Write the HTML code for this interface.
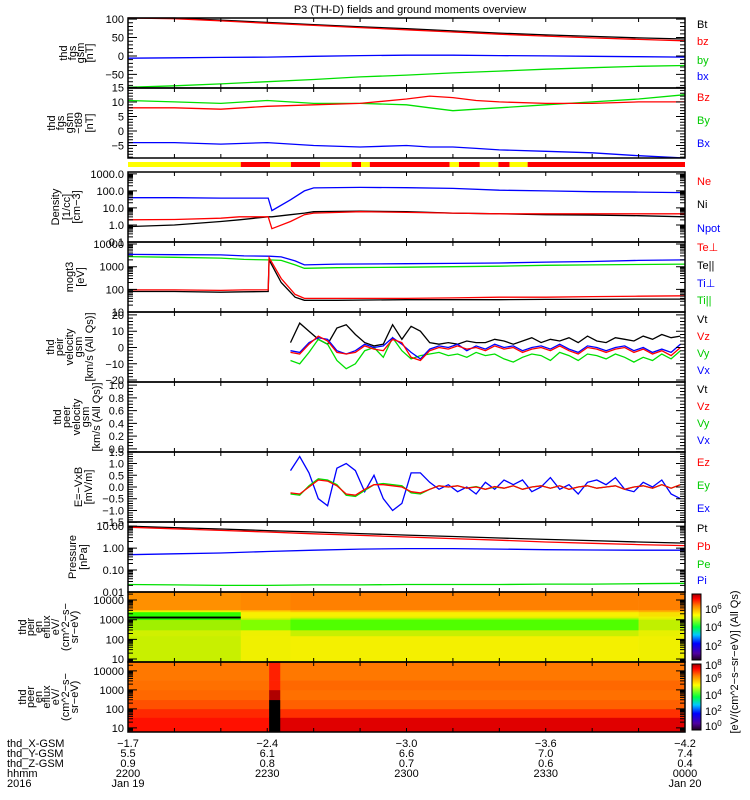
<!DOCTYPE html>
<html><head><meta charset="utf-8"><style>
body{margin:0;background:#fff;}
svg{display:block;font-family:"Liberation Sans",sans-serif;}
text{font-size:11px;}
</style></head><body>
<svg id="chart" width="750" height="800" viewBox="0 0 750 800" xmlns="http://www.w3.org/2000/svg">
<defs>
<linearGradient id="cbar" x1="0" y1="1" x2="0" y2="0">
<stop offset="0" stop-color="#200020"/><stop offset="0.1" stop-color="#5000a0"/><stop offset="0.25" stop-color="#0000ff"/><stop offset="0.38" stop-color="#00c8ff"/><stop offset="0.5" stop-color="#00ff40"/><stop offset="0.68" stop-color="#ffff00"/><stop offset="0.82" stop-color="#ff8000"/><stop offset="0.93" stop-color="#ff0000"/><stop offset="1" stop-color="#a00000"/>
</linearGradient>
</defs>
<text x="410" y="13" text-anchor="middle" font-size="12">P3 (TH-D) fields and ground moments overview</text>
<g id="spec"></g><g id="lines"></g><g id="axes"></g><g id="labels"></g>
</svg>
<script>
const NS="http://www.w3.org/2000/svg";
const X0=128,X1=685,TSPAN=120;
function xs(t){return X0+t*(X1-X0)/TSPAN;}
// ---- data ----
const fgsT=[0,10,20,30,40,50,60,70,80,90,100,110,120];
const btV=[108,103,97,91,85,79,74,68,62,57,53,49,46];
const bzV=[106,101,95,89,83,77,71,65,59,54,49,45,41];
const byV=[-85,-81,-76,-70,-64,-57,-52,-46,-41,-36,-32,-28,-26];
const bxV=[-6,-5,-4,-3,-1,1,2,2,1,0,-1,-2,-3];
const t89T=[0,10,20,30,40,50,60,65,70,75,80,90,100,110,120];
const dBzV=[8,8,7.5,8.5,9,9.5,11,12,11.5,10.5,10,9.5,9.5,10,10];
const dByV=[10.5,10,9.5,10.5,9.5,9.5,9,8,7,7.5,8,9,10,11,12.5];
const dBxV=[-4,-4,-4.5,-4,-5,-5.5,-5,-5.5,-5.5,-6,-6.5,-7,-7.5,-8.5,-9.5];
const modeT=[0,24.3,30.6,35.1,41.4,48.2,50.2,52.1,69.3,71.3,75.8,79.8,82.2,86.1,120];
const modeC=["y","r","y","r","y","r","y","r","y","r","y","r","y","r"];
const denT=[0,10,20,24,30.2,31,35,38,40,50,60,70,80,90,100,110,120];
const neV=[2,2.1,2.5,3,3,0.6,1.6,4,5,6,5.5,5,4.5,4.5,4.5,4.5,4.5];
const niV=[0.8,1.0,1.6,2,3,3,4,5,6,6.5,6,5,4.5,4,3.8,3.5,3];
const npV=[40,40,38,38,38,7,30,100,150,160,155,140,110,100,90,85,80];
const tmpT=[0,10,20,25,30.2,30.4,33,36,38,45,60,70,80,90,100,110,120];
const tepV=[95,95,90,95,95,2500,300,60,40,40,40,42,45,45,48,50,52];
const tepaV=[80,80,75,78,80,2000,200,45,33,33,35,35,35,36,36,37,37];
const tipV=[3500,3400,3300,3000,2900,2900,2700,1800,1200,1300,1350,1400,1450,1600,1700,1900,2000];
const tipaV=[2800,2600,2400,2100,2000,2000,1900,1200,850,900,950,1000,1050,1150,1200,1250,1300];
const vT=[35,37,39,41,43,45,47,49,51,53,55,57,59,61,63,65,67,69,71,73,75,77,79,81,83,85,87,89,91,93,95,97,99,101,103,105,107,109,111,113,115,117,119];
const vtV=[3,15,10,5,2,12,14,8,3,1,2,14,5,13,10,3,2,3,2,4,3,3,5,4,2,4,6,3,5,4,6,3,7,4,3,6,5,4,7,5,8,6,7];
const vzV=[-3,-4,2,7,4,-3,-4,-3,1,-1,-2,5,3,-6,-8,-2,0,-1,1,-1,0,-2,1,-1,0,-3,-1,0,-2,1,-2,-4,0,-1,-3,-1,0,-3,-1,-4,-2,-5,0];
const vyV=[-8,-10,-3,5,2,-8,-13,-10,-2,0,-6,6,-2,-7,-5,-4,-3,-5,-4,-6,-3,-5,-4,-7,-9,-6,-4,-5,-8,-3,-5,-8,-4,-5,-7,-4,-6,-9,-6,-8,-4,-7,-2];
const vxV=[-2,-3,3,6,5,-2,-4,-2,2,0,1,6,2,-3,-7,-1,1,0,2,-2,1,-1,2,0,1,-2,0,1,-1,2,-1,-3,1,0,-2,0,1,-2,0,-3,-1,-3,2];
const exV=[0.7,1.3,0.6,-0.5,-0.8,0.8,1.0,0.7,-0.2,0.5,-0.5,-1.0,-0.7,0.6,0.6,0.2,-0.1,0.1,-0.2,0,-0.3,0.2,-0.1,0.3,0.1,0.3,-0.2,0,0.4,-0.1,0.1,-0.3,0.2,0.3,0.1,0.4,-0.1,-0.2,0.2,0,0.3,-0.3,-0.5];
const eyV=[-0.3,-0.35,0.05,0.35,0.3,0.1,-0.35,-0.4,-0.15,0.1,0.15,0.1,0.05,-0.25,-0.3,-0.1,0.05,0,0.05,-0.05,0.02,-0.1,0,-0.05,0.05,-0.1,0,0.05,-0.05,0.05,-0.1,0,0.05,-0.05,0,0.05,-0.1,0,0.05,-0.05,0.1,-0.05,0.1];
const ezV=[-0.25,-0.3,0,0.3,0.25,0.05,-0.3,-0.35,-0.1,0.1,0.1,0.05,0,-0.2,-0.25,-0.1,0.05,0,0.05,-0.05,0,-0.1,0.02,-0.05,0.05,-0.1,0,0.05,-0.05,0.05,-0.1,0,0.05,-0.05,0,0.05,-0.1,0,0.05,-0.05,0.1,-0.05,0.1];
const prT=[0,10,20,30,40,50,60,70,80,90,100,110,120];
const ptV=[10,8.6,7.4,6.3,5.4,4.6,3.9,3.4,2.9,2.5,2.2,1.9,1.7];
const pbV=[9,7.6,6.4,5.4,4.5,3.8,3.2,2.7,2.3,1.9,1.65,1.45,1.3];
const piV=[0.5,0.55,0.6,0.7,0.8,0.9,0.95,0.95,0.9,0.85,0.82,0.8,0.8];
const peV=[0.022,0.021,0.02,0.02,0.021,0.021,0.022,0.022,0.022,0.023,0.023,0.024,0.025];
// spectrogram grids
const s1T=[0,24.3,35,110,120];
const s1E=[7,150,300,1000,1200,1500,2500,3100,26000];
const s1C=[["#c8f000","#d0f000","#a0f000","#30ff00","#000000","#30ff00","#f0f000","#ff9000"],
["#f0f000","#eef000","#80ff00","#c0f000","#f0f000","#f8f000","#ffd000","#ff8800"],
["#f4f000","#c8f000","#50ff00","#80ff00","#e0f000","#f8f000","#ffc000","#ff8000"],
["#f0f000","#e8f000","#c0f000","#d8f000","#f0f000","#f8e000","#ffb000","#ff8000"]];
const s2T=[0,30.4,32.8,120];
const s2E=[6,35,100,300,1000,3300,30000];
const s2C=[["#ff1000","#ff2800","#ff5000","#ff6800","#ff7000","#ff7800"],
["#000000","#000000","#000000","#b00000","#ff2000","#ff2000"],
["#e00000","#ff3000","#ff6000","#ff7000","#ff6800","#ff7800"]];
// axis labels
const xTickTimes=[0,30,60,90,120];
const xGSM=["-1.7","-2.4","-3.0","-3.6","-4.2"];
const yGSM=["5.5","6.1","6.6","7.0","7.4"];
const zGSM=["0.9","0.8","0.7","0.6","0.4"];
const hhmm=["2200","2230","2300","2330","0000"];

const P={
 p1:{top:18,bot:88,min:-87,max:103,log:false,maj:[100,50,0,-50],lab:["100","50","0","−50"],minor:10},
 p2:{top:88,bot:158,min:-9.3,max:14.8,log:false,maj:[15,10,5,0,-5,-10],lab:["15","10","5","0","−5","−10"],minor:1},
 p3:{top:172,bot:242,min:-1.0,max:3.11,log:true,maj:[-1,0,1,2,3],lab:["0.1","1.0","10.0","100.0","1000.0"]},
 p4:{top:242,bot:312,min:1.0,max:4.09,log:true,maj:[1,2,3,4],lab:["10","100","1000","10000"]},
 p5:{top:312,bot:382,min:-21.2,max:21.8,log:false,maj:[20,10,0,-10,-20],lab:["20","10","0","−10","−20"],minor:2},
 p6:{top:382,bot:452,min:-0.05,max:1.05,log:false,maj:[0,0.2,0.4,0.6,0.8,1.0],lab:["0.0","0.2","0.4","0.6","0.8","1.0"],minor:0.05},
 p7:{top:452,bot:522,min:-1.49,max:1.49,log:false,maj:[1.5,1,0.5,0,-0.5,-1,-1.5],lab:["1.5","1.0","0.5","0.0","−0.5","−1.0","−1.5"],minor:0.1},
 p8:{top:522,bot:592,min:-2.0,max:1.19,log:true,maj:[-2,-1,0,1],lab:["0.01","0.10","1.00","10.00"]},
 p9:{top:592,bot:662,min:0.85,max:4.41,log:true,maj:[1,2,3,4],lab:["10","100","1000","10000"]},
 p10:{top:662,bot:732,min:0.78,max:4.47,log:true,maj:[1,2,3,4],lab:["10","100","1000","10000"]}
};
function ys(p,v){let u=p.log?Math.log10(v):v;let y=p.bot-(u-p.min)/(p.max-p.min)*(p.bot-p.top);return Math.max(p.top,Math.min(p.bot,y));}
function ysRaw(p,u){return p.bot-(u-p.min)/(p.max-p.min)*(p.bot-p.top);}
function mk(tag,attrs,parent){const e=document.createElementNS(NS,tag);for(const k in attrs)e.setAttribute(k,attrs[k]);document.getElementById(parent).appendChild(e);return e;}
function line(p,T,V,color,name){
 const pts=T.map((t,i)=>xs(t).toFixed(1)+","+ys(p,V[i]).toFixed(1)).join(" ");
 const e=mk("polyline",{points:pts,fill:"none",stroke:color,"stroke-width":"1.3"},"lines");
 
 
}
line(P.p1,fgsT,byV,"#00e000","by-line");line(P.p1,fgsT,bxV,"#0000ff","bx-line");line(P.p1,fgsT,btV,"#000","bt-line");line(P.p1,fgsT,bzV,"#ff0000","bz-line");
line(P.p2,t89T,dBxV,"#0000ff","bx-t89-line");line(P.p2,t89T,dByV,"#00e000","by-t89-line");line(P.p2,t89T,dBzV,"#ff0000","bz-t89-line");
line(P.p3,denT,npV,"#0000ff","npot-line");line(P.p3,denT,niV,"#000","ni-line");line(P.p3,denT,neV,"#ff0000","ne-line");
line(P.p4,tmpT,tipV,"#0000ff","ti-perp-line");line(P.p4,tmpT,tipaV,"#00e000","ti-para-line");line(P.p4,tmpT,tepaV,"#000","te-para-line");line(P.p4,tmpT,tepV,"#ff0000","te-perp-line");
line(P.p5,vT,vtV,"#000","vt-line");line(P.p5,vT,vyV,"#00e000","vy-line");line(P.p5,vT,vxV,"#0000ff","vx-line");line(P.p5,vT,vzV,"#ff0000","vz-line");
line(P.p7,vT,exV,"#0000ff","ex-line");line(P.p7,vT,eyV,"#00e000","ey-line");line(P.p7,vT,ezV,"#ff0000","ez-line");
line(P.p8,prT,peV,"#00e000","pe-line");line(P.p8,prT,piV,"#0000ff","pi-line");line(P.p8,prT,ptV,"#000","pt-line");line(P.p8,prT,pbV,"#ff0000","pb-line");
// mode bar
for(let i=0;i<modeC.length;i++){
 const r=mk("rect",{x:xs(modeT[i]),y:162,width:xs(modeT[i+1])-xs(modeT[i]),height:5,fill:modeC[i]=="y"?"#ffff00":"#ff0000"},"spec");
 
 
}
function spec(p,T,E,C,name){
 for(let i=0;i<T.length-1;i++)for(let j=0;j<E.length-1;j++){
  const y1=ys(p,E[j+1]),y0=ys(p,E[j]);
  const r=mk("rect",{x:xs(T[i]),y:y1,width:xs(T[i+1])-xs(T[i])+0.3,height:y0-y1+0.3,fill:C[i][j]},"spec");
  
  
 }
}
spec(P.p9,s1T,s1E,s1C,"peir-spectrogram");spec(P.p10,s2T,s2E,s2C,"peer-spectrogram");
// axes
const panels=["p1","p2","p3","p4","p5","p6","p7","p8","p9","p10"];
panels.forEach(k=>{
 const p=P[k];
 const b=mk("rect",{x:X0,y:p.top,width:X1-X0,height:p.bot-p.top,fill:"none",stroke:"#000","stroke-width":"1.5"},"axes");
 
 
 let d="";
 p.maj.forEach((v,i)=>{const y=ysRaw(p,v);if(y<p.top-1||y>p.bot+1)return;d+=`M${X0},${y}h9M${X1},${y}h-9`;
  const t=mk("text",{x:124,y:y+4,"text-anchor":"end","font-size":"12"},"labels");t.textContent=p.lab[i];
  
  });
 if(p.log){for(let dcd=Math.floor(p.min);dcd<p.max;dcd++)for(let m=2;m<10;m++){const y=ysRaw(p,dcd+Math.log10(m));if(y<p.top||y>p.bot)continue;d+=`M${X0},${y}h5M${X1},${y}h-5`;}}
 else{for(let v=Math.ceil(p.min/p.minor)*p.minor;v<=p.max;v+=p.minor){const y=ysRaw(p,v);d+=`M${X0},${y}h5M${X1},${y}h-5`;}}
 for(let t=0;t<=120;t+=10){const x=xs(t);d+=`M${x},${p.top}v4M${x},${p.bot}v-4`;}
 const pa=mk("path",{d:d,stroke:"#000","stroke-width":"1",fill:"none"},"axes");
 
 
});
// colorbars
[[592,662],[662,732]].forEach((r,i)=>{
 const c=mk("rect",{x:692,y:r[0]+2,width:9,height:r[1]-r[0]-4,fill:"url(#cbar)",stroke:"#000","stroke-width":"1"},"axes");
 
 
});
// x labels
const rows=[xGSM,yGSM,zGSM,hhmm];
rows.forEach((arr,r)=>arr.forEach((s,i)=>{const t=mk("text",{x:xs(xTickTimes[i]),y:747+r*10,"text-anchor":"middle","font-size":"11"},"labels");t.textContent=s.replace("-","−");
 
 }));
</script>
<svg style="position:absolute;left:0;top:0" width="750" height="800">
<g font-family="Liberation Sans,sans-serif" font-size="11">
<text x="7" y="747">thd_X-GSM</text>
<text x="7" y="757">thd_Y-GSM</text>
<text x="7" y="767">thd_Z-GSM</text>
<text x="7" y="777">hhmm</text>
<text x="7" y="787">2016</text>
<text x="128" y="787" text-anchor="middle">Jan 19</text>
<text x="685" y="787" text-anchor="middle">Jan 20</text>
<g text-anchor="middle">
<text transform="translate(67,53) rotate(-90)">thd</text><text transform="translate(76,53) rotate(-90)">fgs</text><text transform="translate(84,53) rotate(-90)">gsm</text><text transform="translate(93,53) rotate(-90)">[nT]</text>
<text transform="translate(55,123) rotate(-90)">thd</text><text transform="translate(64,123) rotate(-90)">fgs</text><text transform="translate(73,123) rotate(-90)">gsm</text><text transform="translate(82,123) rotate(-90)">−t89</text><text transform="translate(93,123) rotate(-90)">[nT]</text>
<text transform="translate(59,207) rotate(-90)">Density</text><text transform="translate(70,207) rotate(-90)">[1/cc]</text><text transform="translate(80,207) rotate(-90)">[cm−3]</text>
<text transform="translate(73,277) rotate(-90)">mogt3</text><text transform="translate(84,277) rotate(-90)">[eV]</text>
<text transform="translate(54,347) rotate(-90)">thd</text><text transform="translate(63,347) rotate(-90)">peir</text><text transform="translate(73,347) rotate(-90)">velocity</text><text transform="translate(82,347) rotate(-90)">gsm</text><text transform="translate(93,347) rotate(-90)">[km/s (All Qs)]</text>
<text transform="translate(61,417) rotate(-90)">thd</text><text transform="translate(70,417) rotate(-90)">peer</text><text transform="translate(80,417) rotate(-90)">velocity</text><text transform="translate(89,417) rotate(-90)">gsm</text><text transform="translate(100,417) rotate(-90)">[km/s (All Qs)]</text>
<text transform="translate(82,487) rotate(-90)">E=−VxB</text><text transform="translate(92,487) rotate(-90)">[mV/m]</text>
<text transform="translate(76,557) rotate(-90)">Pressure</text><text transform="translate(87,557) rotate(-90)">[nPa]</text>
<text transform="translate(26,627) rotate(-90)">thd</text><text transform="translate(34,627) rotate(-90)">peir</text><text transform="translate(42,627) rotate(-90)">en</text><text transform="translate(50,627) rotate(-90)">eflux</text><text transform="translate(59,627) rotate(-90)">eV/</text><text transform="translate(69,627) rotate(-90)">(cm^2−s−</text><text transform="translate(78,627) rotate(-90)">sr−eV)</text>
<text transform="translate(26,697) rotate(-90)">thd</text><text transform="translate(34,697) rotate(-90)">peer</text><text transform="translate(42,697) rotate(-90)">en</text><text transform="translate(50,697) rotate(-90)">eflux</text><text transform="translate(59,697) rotate(-90)">eV/</text><text transform="translate(69,697) rotate(-90)">(cm^2−s−</text><text transform="translate(78,697) rotate(-90)">sr−eV)</text>
</g>
<g>
<text x="697" y="28" fill="#000">Bt</text><text x="697" y="45" fill="#f00">bz</text><text x="697" y="64" fill="#0c0">by</text><text x="697" y="80" fill="#00f">bx</text>
<text x="697" y="101" fill="#f00">Bz</text><text x="697" y="124" fill="#0c0">By</text><text x="697" y="147" fill="#00f">Bx</text>
<text x="697" y="185" fill="#f00">Ne</text><text x="697" y="208" fill="#000">Ni</text><text x="697" y="232" fill="#00f">Npot</text>
<text x="697" y="251" fill="#f00">Te⊥</text><text x="697" y="269" fill="#000">Te||</text><text x="697" y="287" fill="#00f">Ti⊥</text><text x="697" y="304" fill="#0c0">Ti||</text>
<text x="697" y="323" fill="#000">Vt</text><text x="697" y="340" fill="#f00">Vz</text><text x="697" y="357" fill="#0c0">Vy</text><text x="697" y="374" fill="#00f">Vx</text>
<text x="697" y="393" fill="#000">Vt</text><text x="697" y="410" fill="#f00">Vz</text><text x="697" y="427" fill="#0c0">Vy</text><text x="697" y="444" fill="#00f">Vx</text>
<text x="697" y="466" fill="#f00">Ez</text><text x="697" y="489" fill="#0c0">Ey</text><text x="697" y="512" fill="#00f">Ex</text>
<text x="697" y="532" fill="#000">Pt</text><text x="697" y="550" fill="#f00">Pb</text><text x="697" y="568" fill="#0c0">Pe</text><text x="697" y="584" fill="#00f">Pi</text>
</g>
<g font-size="10">
<text x="705" y="613">10<tspan dy="-4" font-size="8">6</tspan></text><text x="705" y="631">10<tspan dy="-4" font-size="8">4</tspan></text><text x="705" y="650">10<tspan dy="-4" font-size="8">2</tspan></text>
<text x="705" y="669">10<tspan dy="-4" font-size="8">8</tspan></text><text x="705" y="682">10<tspan dy="-4" font-size="8">6</tspan></text><text x="705" y="699">10<tspan dy="-4" font-size="8">4</tspan></text><text x="705" y="715">10<tspan dy="-4" font-size="8">2</tspan></text><text x="705" y="730">10<tspan dy="-4" font-size="8">0</tspan></text>
</g>
<text transform="translate(738,662) rotate(-90)" text-anchor="middle" font-size="11">[eV/(cm^2−s−sr−eV)] (All Qs)</text>
</g>
</svg>
</body></html>
